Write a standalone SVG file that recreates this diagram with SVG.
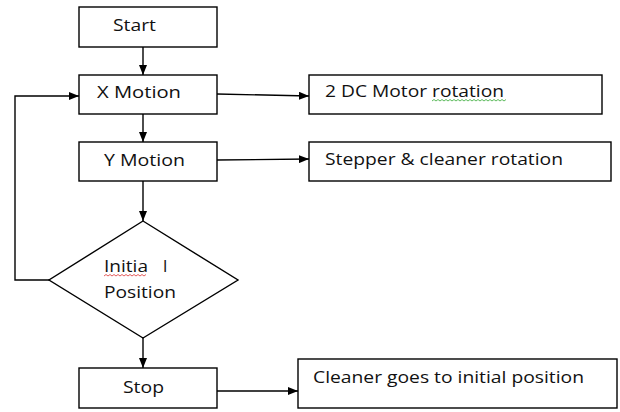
<svg xmlns="http://www.w3.org/2000/svg" width="620" height="412" viewBox="0 0 620 412">
<style>
.box{fill:#fff;stroke:#000;stroke-width:1.4}
.ln{fill:none;stroke:#000;stroke-width:1.4}
.t{font-family:"Open Sans","Liberation Sans",sans-serif;font-size:17px;fill:#111}
</style>
<defs>
<marker id="ah" markerWidth="10" markerHeight="8" refX="10" refY="4" orient="auto" markerUnits="userSpaceOnUse">
<path d="M0,0 L10,4 L0,8 Z" fill="#000"/>
</marker>
</defs>
<rect width="620" height="412" fill="#fff"/>
<g id="connectors">
<line class="ln" x1="143" y1="47" x2="143" y2="75" marker-end="url(#ah)"/>
<line class="ln" x1="143" y1="114" x2="143" y2="142" marker-end="url(#ah)"/>
<line class="ln" x1="143" y1="181" x2="143" y2="221" marker-end="url(#ah)"/>
<line class="ln" x1="143" y1="338" x2="143" y2="368" marker-end="url(#ah)"/>
<polyline class="ln" points="49,280 15,280 15,96 79,96" marker-end="url(#ah)"/>
<line class="ln" x1="217" y1="94" x2="309" y2="96" marker-end="url(#ah)"/>
<line class="ln" x1="217" y1="160" x2="309" y2="159" marker-end="url(#ah)"/>
<line class="ln" x1="217" y1="391" x2="298" y2="391" marker-end="url(#ah)"/>
</g>
<g id="start">
<rect class="box" x="79" y="7" width="138" height="40"/>
<text class="t" x="113" y="31" textLength="43" lengthAdjust="spacingAndGlyphs">Start</text>
</g>
<g id="xmotion">
<rect class="box" x="79" y="75" width="138" height="39"/>
<text class="t" x="97" y="98" textLength="84" lengthAdjust="spacingAndGlyphs">X Motion</text>
</g>
<g id="ymotion">
<rect class="box" x="79" y="142" width="138" height="39"/>
<text class="t" x="104" y="166" textLength="81" lengthAdjust="spacingAndGlyphs">Y Motion</text>
</g>
<g id="dcmotor">
<rect class="box" x="309" y="75" width="293" height="39"/>
<text class="t" x="325" y="97" textLength="179" lengthAdjust="spacingAndGlyphs">2 DC Motor rotation</text>
<path d="M432,101 l2,-1.5 2,1.5 2,-1.5 2,1.5 2,-1.5 2,1.5 2,-1.5 2,1.5 2,-1.5 2,1.5 2,-1.5 2,1.5 2,-1.5 2,1.5 2,-1.5 2,1.5 2,-1.5 2,1.5 2,-1.5 2,1.5 2,-1.5 2,1.5 2,-1.5 2,1.5 2,-1.5 2,1.5 2,-1.5 2,1.5 2,-1.5 2,1.5 2,-1.5 2,1.5 2,-1.5 2,1.5 2,-1.5 2,1.5 2,-1.5" fill="none" stroke="#3a3" stroke-width="0.8"/>
</g>
<g id="stepper">
<rect class="box" x="309" y="142" width="302" height="39"/>
<text class="t" x="325" y="165" textLength="238" lengthAdjust="spacingAndGlyphs">Stepper &amp; cleaner rotation</text>
</g>
<g id="initial">
<polygon class="box" points="143,221 238,280 143,338 49,280"/>
<text class="t" x="104" y="272" textLength="44" lengthAdjust="spacingAndGlyphs">Initia</text>
<text class="t" x="163" y="272">l</text>
<path d="M104,276 l2,-1.5 2,1.5 2,-1.5 2,1.5 2,-1.5 2,1.5 2,-1.5 2,1.5 2,-1.5 2,1.5 2,-1.5 2,1.5 2,-1.5 2,1.5 2,-1.5 2,1.5 2,-1.5 2,1.5 2,-1.5 2,1.5 2,-1.5" fill="none" stroke="#d33" stroke-width="0.8"/>
<text class="t" x="104" y="298" textLength="72" lengthAdjust="spacingAndGlyphs">Position</text>
</g>
<g id="stop">
<rect class="box" x="79" y="368" width="138" height="40"/>
<text class="t" x="123" y="393" textLength="41" lengthAdjust="spacingAndGlyphs">Stop</text>
</g>
<g id="cleaner">
<rect class="box" x="298" y="359" width="319" height="49"/>
<text class="t" x="313" y="383" textLength="271" lengthAdjust="spacingAndGlyphs">Cleaner goes to initial position</text>
</g>
</svg>
